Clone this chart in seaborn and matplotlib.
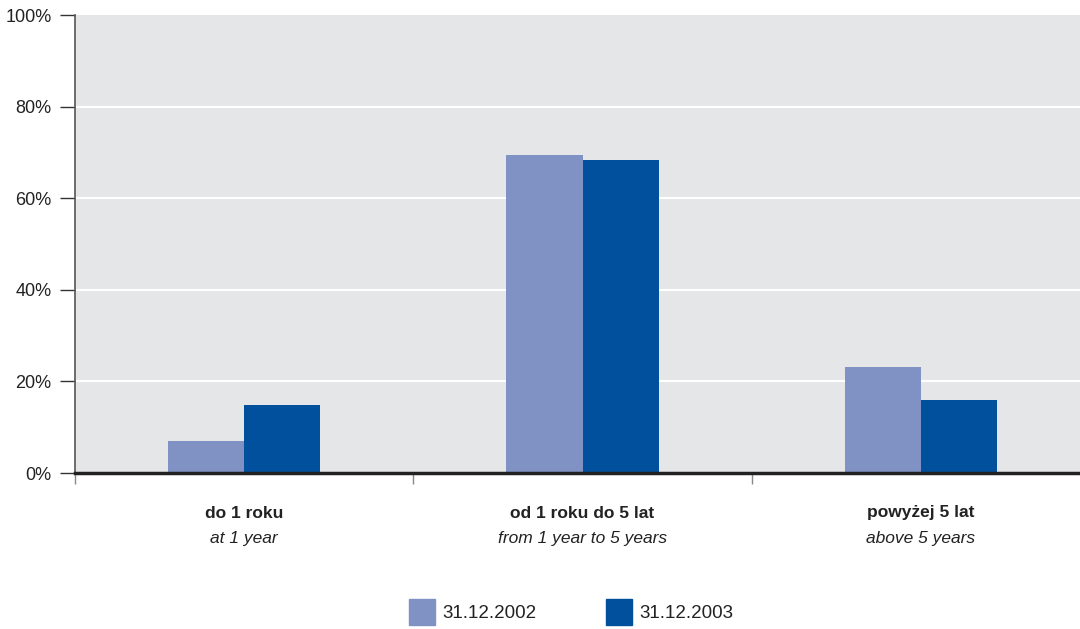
import pandas as pd
import matplotlib.pyplot as plt
import seaborn as sbn
import matplotlib.ticker as tick
from matplotlib.transforms import blended_transform_factory

CATEGORIES_PL = ['do 1 roku', 'od 1 roku do 5 lat', 'powyżej 5 lat']
CATEGORIES_EN = ['at 1 year', 'from 1 year to 5 years', 'above 5 years']
SERIES = ['31.12.2002', '31.12.2003']
VALUES_2002 = [7.0, 69.4, 23.1]
VALUES_2003 = [14.9, 68.3, 15.9]
Y_TICKS = [0, 20, 40, 60, 80, 100]

COLORS = ['#8092c4', '#00509e']
BG = '#e5e6e8'

sbn.set_style('white')
plt.rcParams['font.family'] = ['Liberation Sans Narrow', 'Liberation Sans', 'DejaVu Sans']

df = pd.DataFrame({
    'cat': CATEGORIES_PL * 2,
    'value': VALUES_2002 + VALUES_2003,
    'series': [SERIES[0]] * 3 + [SERIES[1]] * 3,
})

fig = plt.figure(figsize=(10.8, 6.29), dpi=100)
ax = fig.add_axes([75 / 1080, 156 / 629, 1 - 75 / 1080, 458 / 629])
ax.set_facecolor(BG)

sbn.barplot(data=df, x='cat', y='value', hue='series', palette=COLORS,
            width=0.45, gap=0, saturation=1, ax=ax, legend=False,
            edgecolor='none', linewidth=0)

ax.set_ylim(0, 100)
ax.set_xlim(-0.5, 2.47)
ax.set_yticks(Y_TICKS)
ax.yaxis.set_major_formatter(tick.FuncFormatter(lambda x, _: f'{x:.0f}%'))
ax.tick_params(axis='y', length=11, width=1, color='#333333', labelsize=13,
               labelcolor='#222222', pad=6, left=True)
for y in Y_TICKS[1:-1]:
    ax.axhline(y, color='white', lw=1.5, zorder=0.5)

ax.set_xticks([-0.5, 0.5, 1.5])
ax.set_xticklabels([])
ax.tick_params(axis='x', length=8, width=1, color='#888888', bottom=True)
ax.set_xlabel('')
ax.set_ylabel('')

for s in ['top', 'right']:
    ax.spines[s].set_visible(False)
ax.spines['left'].set_color('#555555')
ax.spines['left'].set_linewidth(1.2)
ax.spines['bottom'].set_color('#222222')
ax.spines['bottom'].set_linewidth(2.5)
ax.spines['bottom'].set_zorder(5)

tr = blended_transform_factory(ax.transData, fig.transFigure)
for i, (pl, en) in enumerate(zip(CATEGORIES_PL, CATEGORIES_EN)):
    fig.text(i, 1 - 513 / 629, pl, transform=tr, ha='center', va='center',
             fontsize=12.5, fontweight='bold', color='#222222')
    fig.text(i, 1 - 538 / 629, en, transform=tr, ha='center', va='center',
             fontsize=12.5, fontstyle='italic', color='#222222')

# legend
for x0, col, lab in zip([409, 606], COLORS, SERIES):
    fig.patches.append(plt.Rectangle((x0 / 1080, 1 - 625 / 629), 26 / 1080, 26 / 629,
                                     transform=fig.transFigure, color=col))
    fig.text((x0 + 33) / 1080, 1 - 613 / 629, lab, ha='left', va='center',
             fontsize=13.5, color='#222222')

fig.savefig('out.png', dpi=100)
